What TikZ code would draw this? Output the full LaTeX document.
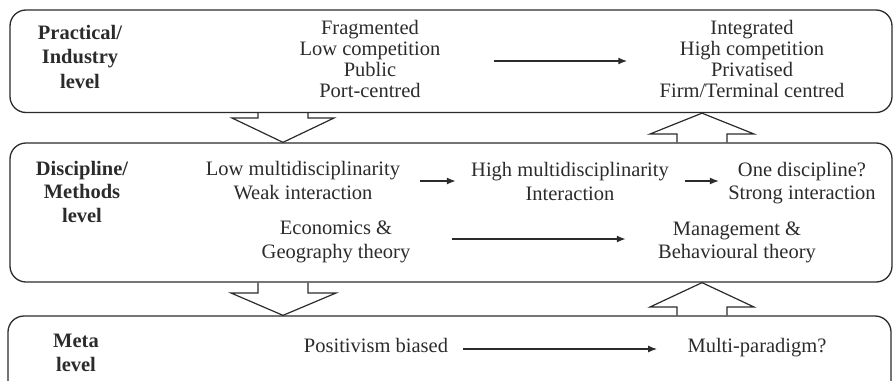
\documentclass[tikz,border=0pt]{standalone}
\usepackage{fontspec}
\setmainfont{Liberation Serif}
\usepackage{tikz}
\usetikzlibrary{arrows.meta}
\definecolor{ink}{HTML}{2B2B2B}

\begin{document}
\begin{tikzpicture}[x=1pt,y=-1pt,thick,
  level box/.style={draw=ink,line width=1.3pt,rounded corners=16pt,minimum width=882pt,inner sep=0pt},
  level name/.style={font=\fontsize{20.5}{24.5}\bfseries\selectfont,align=center,text=ink,inner sep=0pt},
  item/.style={font=\fontsize{20.5}{24}\selectfont,align=center,text=ink,inner sep=0pt},
  flow/.style={-{Latex[length=9pt,width=7pt]},draw=ink,line width=1.4pt},
  hollow/.style={draw=ink,line width=1.2pt,line join=miter}]

\useasboundingbox (0,0) rectangle (893,380);

% the three levels
\node[level box,minimum height=102.5pt] (prac) at (451,61.25) {};
\node[level box,minimum height=139pt] (disc) at (451,212.5) {};
\node[level box,minimum height=110pt,minimum width=883pt] (meta) at (449.5,371) {};

\node[level name] (pracname) at (80,56.5) {Practical/\\Industry\\level};
\node[level name,font=\fontsize{20.5}{23.5}\bfseries\selectfont] (discname) at (82,191.5) {Discipline/\\Methods\\level};
\node[level name,font=\fontsize{20.5}{24}\bfseries\selectfont] (metaname) at (76,353) {Meta\\level};

% practical level
\node[item,font=\fontsize{20.5}{20.7}\selectfont] (frag) at (370,59) {Fragmented\\Low competition\\Public\\Port-centred};
\node[item,font=\fontsize{20.5}{20.7}\selectfont] (integ) at (752,59) {Integrated\\High competition\\Privatised\\Firm/Terminal centred};

% discipline level
\node[item] (lowmd) at (303,181) {Low multidisciplinarity\\Weak interaction};
\node[item] (highmd) at (570,181) {High multidisciplinarity\\Interaction};
\node[item,font=\fontsize{20.5}{23}\selectfont] (onedisc) at (802,183.5) {One discipline?\\Strong interaction};
\node[item] (econ) at (336,242) {Economics \&\\Geography theory};
\node[item,font=\fontsize{20.5}{23}\selectfont] (mgmt) at (737,242) {Management \&\\Behavioural theory};

% meta level
\node[item,anchor=base] (posi) at (376,352) {Positivism biased};
\node[item,anchor=base] (multi) at (757,352) {Multi-paradigm?};

\draw[flow,shorten <=53pt,shorten >=32pt] ([yshift=-2pt]frag.east) -- ([yshift=-2pt]integ.west);
\draw[flow,shorten <=20pt,shorten >=15pt] (lowmd) -- (highmd);
\draw[flow,shorten <=16pt,shorten >=9pt] (highmd.east) -- (highmd.east -| onedisc.west);
\draw[flow,shorten <=41pt,shorten >=32pt] ([yshift=3pt]econ.east) -- ([yshift=3pt]econ.east -| mgmt.west);
\draw[flow,shorten <=15pt,shorten >=30pt] ([yshift=3pt]posi.base east) -- ([yshift=3pt]posi.base east -| multi.west);

% block arrows between levels
\draw[hollow] (258,0 |- prac.south) |- (232,118) -- (283,0 |- disc.north) -- (334,118) -| (308,0 |- prac.south);
\draw[hollow] (677,0 |- disc.north) |- (650,134) -- (702,0 |- prac.south) -- (754,134) -| (727,0 |- disc.north);
\draw[hollow] (258,0 |- disc.south) |- (231,293) -- (283,0 |- meta.north) -- (336,293) -| (308,0 |- disc.south);
\draw[hollow] (677,0 |- meta.north) |- (650,307) -- (702,0 |- disc.south) -- (754,307) -| (727,0 |- meta.north);
\end{tikzpicture}
\end{document}
